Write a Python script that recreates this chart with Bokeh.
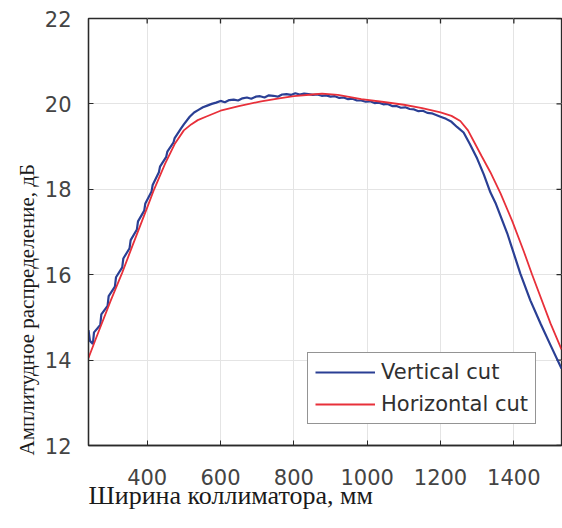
import math
from bokeh.plotting import figure
from bokeh.models import LinearAxis, Title, Legend, LegendItem, Range1d, FixedTicker, Grid
from bokeh.embed import file_html
from bokeh.resources import INLINE

# Horizontal cut (red)
x_h = [240, 260, 300, 332, 360, 400, 419, 449, 475, 500, 520, 538, 560, 600, 650, 711, 760, 800,
       850, 877, 920, 984, 1040, 1100, 1150, 1200, 1230, 1254, 1275, 1291, 1312, 1336, 1364, 1396,
       1427, 1450, 1500, 1530]
y_h = [14.05, 14.5, 15.38, 16.05, 16.68, 17.57, 18.0, 18.6, 19.06, 19.38, 19.52, 19.62, 19.7, 19.84,
       19.95, 20.06, 20.13, 20.18, 20.22, 20.24, 20.21, 20.11, 20.05, 19.98, 19.9, 19.8, 19.72, 19.6,
       19.38, 19.12, 18.78, 18.4, 17.9, 17.25, 16.55, 16.0, 14.86, 14.25]

# Vertical cut (blue)
x_v = [240, 244, 252, 255, 272, 275, 292, 295, 312, 315, 332, 335, 352, 355, 372, 375, 392, 395, 412,
       415, 432, 435, 452, 455, 472, 475, 492, 500, 516, 528, 540, 552, 564, 576, 588, 600, 612,
       624, 636, 648, 660, 672, 684, 696, 708, 720, 732, 744, 756, 768, 780, 792, 804, 816, 828,
       840, 852, 864, 876, 888, 900, 912, 924, 936, 948, 960, 972, 984, 996, 1008, 1020, 1032,
       1044, 1056, 1068, 1080, 1092, 1104, 1116, 1128, 1140, 1152, 1164, 1176, 1188, 1200, 1215,
       1230, 1245, 1263, 1280, 1300, 1318, 1336, 1350, 1382, 1418, 1445, 1473, 1500, 1530]
y_v = [14.7, 14.45, 14.38, 14.65, 14.82, 15.07, 15.27, 15.5, 15.72, 15.94, 16.17, 16.38, 16.62, 16.81,
       17.06, 17.25, 17.5, 17.67, 17.95, 18.1, 18.4, 18.53, 18.76, 18.88, 19.1, 19.2, 19.42, 19.52,
       19.7, 19.8, 19.86, 19.92, 19.96, 20.0, 20.03, 20.07, 20.04, 20.09, 20.1, 20.08, 20.13, 20.15,
       20.12, 20.17, 20.18, 20.15, 20.2, 20.19, 20.17, 20.22, 20.23, 20.21, 20.25, 20.22, 20.24,
       20.23, 20.21, 20.22, 20.19, 20.2, 20.17, 20.18, 20.14, 20.15, 20.11, 20.12, 20.08, 20.08,
       20.05, 20.06, 20.02, 20.03, 19.99, 20.0, 19.95, 19.95, 19.91, 19.92, 19.88, 19.87, 19.83,
       19.84, 19.79, 19.78, 19.74, 19.7, 19.65, 19.58, 19.46, 19.33, 19.06, 18.72, 18.35, 17.93,
       17.68, 16.97, 16.02, 15.4, 14.85, 14.35, 13.8]

x_ticks = [400, 600, 800, 1000, 1200, 1400]
y_ticks = [12, 14, 16, 18, 20, 22]
x_lim = (240, 1530)
y_lim = (12, 22)
series_names = ["Vertical cut", "Horizontal cut"]
x_label = "Ширина коллиматора, мм"
y_label = "Амплитудное распределение, дБ"

AX = "#2a2a2a"
TICKC = "#444444"

p = figure(width=562, height=528, output_backend="svg", toolbar_location=None,
           x_range=Range1d(*x_lim), y_range=Range1d(*y_lim),
           min_border_left=88, min_border_top=18, min_border_bottom=83, min_border_right=1,
           x_axis_location=None, y_axis_location=None)
p.outline_line_color = AX
p.outline_line_width = 1.3
p.background_fill_color = "white"
p.border_fill_color = "white"

def style_axis(ax):
    ax.axis_line_color = AX
    ax.axis_line_width = 1.3
    ax.major_tick_in = 5
    ax.major_tick_out = 0
    ax.major_tick_line_color = AX
    ax.minor_tick_line_color = None
    ax.major_label_text_font = "DejaVu Sans"
    ax.major_label_text_font_size = "21px"
    ax.major_label_text_color = TICKC

xb = LinearAxis(ticker=FixedTicker(ticks=x_ticks))
style_axis(xb)
xb.major_label_standoff = 23
p.add_layout(xb, "below")
yl = LinearAxis(ticker=FixedTicker(ticks=y_ticks))
style_axis(yl)
yl.major_label_standoff = 17
p.add_layout(yl, "left")

p.add_layout(Grid(dimension=0, ticker=FixedTicker(ticks=x_ticks), grid_line_color="#e4e4e4", grid_line_width=1))
p.add_layout(Grid(dimension=1, ticker=FixedTicker(ticks=y_ticks), grid_line_color="#e4e4e4", grid_line_width=1))

# inward tick marks on the top and right frame edges (half of each dash is clipped by the frame)
p.scatter(x_ticks, [y_lim[1]] * len(x_ticks), marker="dash", angle=math.pi / 2, size=10,
          line_color=AX, line_width=1.3)
p.scatter([x_lim[1]] * len(y_ticks), y_ticks, marker="dash", size=10,
          line_color=AX, line_width=1.3)

rv = p.line(x_v, y_v, line_color="#2a3f94", line_width=2.2)
rh = p.line(x_h, y_h, line_color="#e8303a", line_width=1.8)

legend = Legend(items=[LegendItem(label=series_names[0], renderers=[rv]),
                       LegendItem(label=series_names[1], renderers=[rh])],
                location=(219, 21), glyph_width=60, glyph_height=24, label_height=24,
                label_text_font="DejaVu Sans", label_text_font_size="21px",
                label_text_color="#303030", spacing=8, padding=7, margin=0,
                label_standoff=6, border_line_color=AX, border_line_width=1.3,
                background_fill_alpha=1.0)
p.add_layout(legend, "center")

tx = Title(text=x_label, align="left", text_font="Liberation Serif", text_font_size="26px",
           text_font_style="normal", text_color="#1a1a1a", standoff=-17)
p.add_layout(tx, "below")
ty = Title(text=y_label, align="left", text_font="Liberation Serif", text_font_size="21px",
           text_font_style="normal", text_color="#1a1a1a", standoff=6, offset=-10)
p.add_layout(ty, "left")

open("out.html", "w").write(file_html(p, INLINE))
